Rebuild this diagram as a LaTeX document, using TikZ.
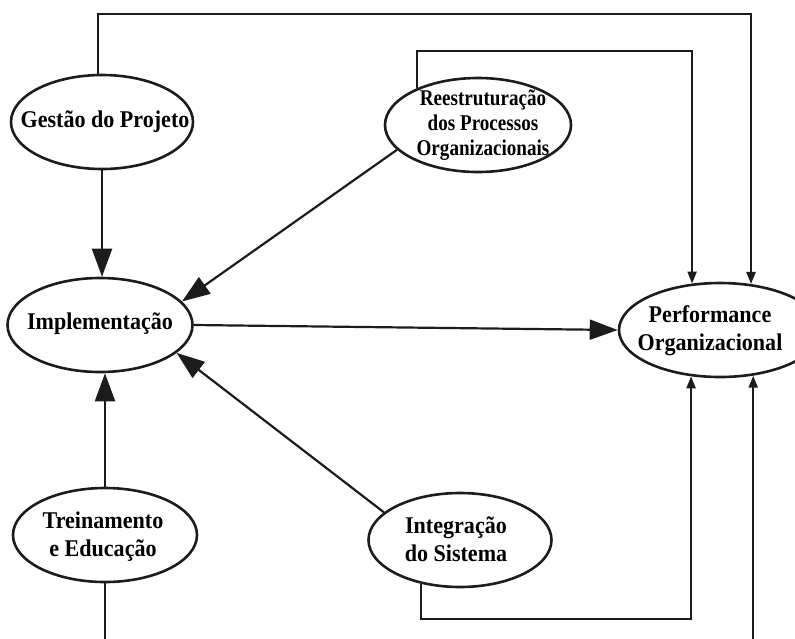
\documentclass[tikz,border=0pt]{standalone}
\usepackage{fontspec}
\setmainfont{Liberation Serif}
\newfontfamily\labelfont[FakeStretch=0.92]{Liberation Serif}
\newfontfamily\narrowlabelfont[FakeStretch=0.85]{Liberation Serif}
\usetikzlibrary{arrows.meta,shapes.geometric}
\definecolor{ink}{HTML}{1C1C1C}
\begin{document}
\begin{tikzpicture}[x=1pt,y=-1pt,
  ell/.style={ellipse, draw=ink, line width=2.6pt, inner sep=0pt, minimum height=94pt},
  lbl/.style={font=\labelfont\bfseries\fontsize{24}{28}\selectfont, align=center, inner sep=0pt, text=black},
  lblsmall/.style={font=\narrowlabelfont\bfseries\fontsize{22.5}{25}\selectfont, align=center, inner sep=0pt, text=black},
  bigarrow/.style={draw=ink, line width=2.2pt, -{Triangle[length=28pt,width=20pt]}},
  smallarrow/.style={draw=ink, line width=2.2pt, -{Triangle[length=12pt,width=9pt]}},
]
\useasboundingbox (0,0) rectangle (795,638);
\clip (0,0) rectangle (795,638);

% ellipses
\node[ell, minimum width=182pt] (gest)   at (102,122) {};
\node[ell, minimum width=186pt] (reestr) at (478,125) {};
\node[ell, minimum width=185pt] (impl)   at (100,325) {};
\node[ell, minimum width=202pt] (perf)   at (720,330) {};
\node[ell, minimum width=184pt] (trein)  at (105,535) {};
\node[ell, minimum width=183pt] (integ)  at (460,540) {};

% labels
\node[lbl] (gest-t) at (105,122) {Gestão do Projeto};
\node[lblsmall] (reestr-t) at (483,125) {Reestruturação\\dos Processos\\Organizacionais};
\node[lbl] (impl-t) at (100,324) {Implementação};
\node[lbl] (perf-t) at (710,331) {Performance\\Organizacional};
\node[lbl] (trein-t) at (103,537) {Treinamento\\e Educação};
\node[lbl] (integ-t) at (456,539) {Integração\\do Sistema};

% corner points of the routed connectors
\coordinate (topG) at (750,14);
\coordinate (topR) at (692,51);
\coordinate (botI) at (692,619);
\coordinate (botT) at (753,660);

% direct influences on the implementation
\draw[bigarrow] (gest.south) -- (gest.south |- impl.north);
\draw[bigarrow] (trein.north) -- (trein.north |- impl.south);
\draw[bigarrow] (reestr.197.8) -- (impl.16);
\draw[bigarrow] (integ.160.3) -- (impl.340.7);
\draw[bigarrow] (impl.east) -- (perf.west);

% routed influences on organizational performance
\draw[smallarrow] (gest.95) |- (topG) -| (perf.56.5);
\draw[smallarrow] (reestr.149.2) |- (topR) -| (perf.121.5);
\draw[smallarrow] (integ.228.1) |- (botI) -| (perf.238.5);
\draw[smallarrow] (trein.south) |- (botT) -| (perf.306.3);
\end{tikzpicture}
\end{document}
